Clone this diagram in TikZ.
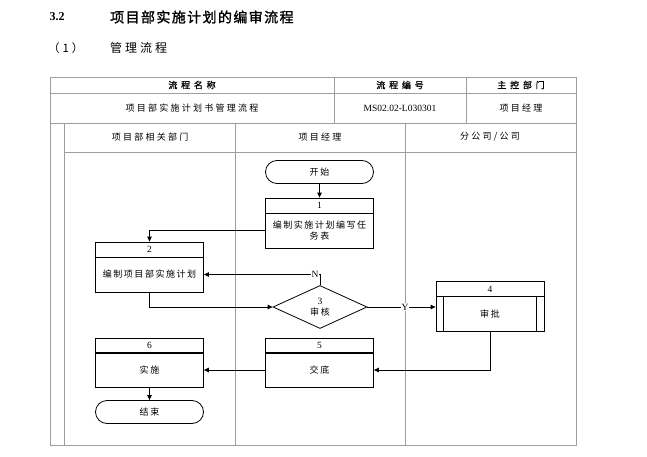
\documentclass[tikz,border=0pt]{standalone}
\usepackage{fontspec}
\usepackage{tikz}
\usetikzlibrary{arrows.meta,shapes.geometric}
\setmainfont{Liberation Serif}
\newfontfamily\cjk[LetterSpace=17]{Noto Sans CJK SC}
\newfontfamily\cjktab[LetterSpace=25]{Noto Sans CJK SC}
\newfontfamily\cjkb[LetterSpace=42,FakeBold=1]{Noto Sans CJK SC}
\newfontfamily\cjktitle[LetterSpace=10,FakeBold=1.5]{Noto Sans CJK SC}
\newfontfamily\cjksub[LetterSpace=25]{Noto Sans CJK SC}
\newcommand{\flowsize}{\fontsize{9}{10.5}\selectfont}

\begin{document}
\begin{tikzpicture}[x=1pt,y=-1pt]
\tikzset{
  tabline/.style={draw=black!38, line width=0.8pt},
  tabtext/.style={inner sep=0pt, font=\flowsize\cjktab},
  flowline/.style={draw=black, line width=0.8pt},
  arr/.style={flowline, -{Triangle[length=5pt,width=4.5pt]}},
  term/.style={flowline, rectangle, rounded corners=11.5pt, minimum width=108pt, minimum height=23pt, inner sep=0pt, font=\flowsize\cjk},
  hdr/.style={flowline, rectangle, minimum width=108pt, minimum height=15pt, inner sep=0pt, font=\fontsize{9.5}{10}\selectfont},
  body/.style={flowline, rectangle, minimum width=108pt, minimum height=35pt, inner sep=0pt, align=center, font=\flowsize\cjk},
  dec/.style={flowline, diamond, minimum width=94pt, minimum height=43pt, inner sep=0pt, align=center, font=\flowsize\cjk},
  lbl/.style={fill=white, inner sep=0.5pt, font=\fontsize{9.5}{10}\selectfont}
}
\useasboundingbox (0,0) rectangle (647,457);

% headings
\node[anchor=center, font=\fontsize{12}{14}\selectfont\bfseries] (sec) at (57,17) {3.2};
\node[anchor=west, inner sep=0pt, font=\fontsize{14}{15}\selectfont\cjktitle] (sectitle) at (110,17) {项目部实施计划的编审流程};
\node[anchor=west, inner sep=0pt, font=\fontsize{11.5}{14}\selectfont\cjksub] (sub) at (48,48) {（1）};
\node[anchor=west, inner sep=0pt, font=\fontsize{12}{14}\selectfont\cjksub] (subtitle) at (110,48) {管理流程};

% table and lanes
\draw[tabline] (50,77) rectangle (576,445);
\draw[tabline] (50,93) -- (576,93);
\draw[tabline] (50,123) -- (576,123);
\draw[tabline] (64,152) -- (576,152);
\draw[tabline] (334,77) -- (334,123);
\draw[tabline] (466,77) -- (466,123);
\draw[tabline] (64,123) -- (64,445);
\draw[tabline] (235,123) -- (235,445);
\draw[tabline] (405,123) -- (405,445);

\node[tabtext, font=\flowsize\cjkb] (hname) at (192,85) {流程名称};
\node[tabtext, font=\flowsize\cjkb] (hno) at (400,85) {流程编号};
\node[tabtext, font=\flowsize\cjkb] (hdept) at (521,85) {主控部门};
\node[tabtext] (vname) at (192,108) {项目部实施计划书管理流程};
\node[tabtext, font=\fontsize{9.5}{10}\selectfont] (vno) at (400,108) {MS02.02-L030301};
\node[tabtext] (vdept) at (521,108) {项目经理};
\node[tabtext] (lane1) at (150,137) {项目部相关部门};
\node[tabtext] (lane2) at (320,137) {项目经理};
\node[tabtext] (lane3) at (490,137) {分公司/公司};

% flow
\node[term] (start) at (319.5,172) {开始};
\node[hdr] (t1) at (319.5,205.5) {1};
\node[body] (b1) at (319.5,230.5) {编制实施计划编写任\\务表};
\node[hdr] (t2) at (149.5,249.5) {2};
\node[body] (b2) at (149.5,274.5) {编制项目部实施计划};
\node[dec] (d3) at (320,307) {{\fontsize{9.5}{9}\selectfont\rmfamily 3}\\审核};
\node[hdr] (t4) at (490,289) {4};
\node[body] (b4) at (490,314) {审批};
\draw[flowline] ([xshift=8pt]b4.north west) -- ([xshift=8pt]b4.south west);
\draw[flowline] ([xshift=-8pt]b4.north east) -- ([xshift=-8pt]b4.south east);
\node[hdr] (t5) at (319.5,345.5) {5};
\node[body] (b5) at (319.5,370) {交底};
\node[hdr] (t6) at (149.5,345.5) {6};
\node[body] (b6) at (149.5,370) {实施};
\node[term] (end) at (149.5,412) {结束};

\draw[arr] (start) -- (t1);
\draw[arr] (b1.west) -| (t2.north);
\draw[arr] (d3.north) |- (b2.east);
\node[lbl] (nlab) at ([xshift=-5pt]d3.north |- b2.east) {N};
\draw[arr] (b2.south) |- (d3.west);
\draw[arr] (d3.east) -- (b4.west |- d3.east);
\node[lbl] (ylab) at (405,307) {Y};
\draw[arr] (b4.south) |- (b5.east);
\draw[arr] (b5.west) -- (b6.east);
\draw[arr] (b6.south) -- (end.north);
\end{tikzpicture}
\end{document}
